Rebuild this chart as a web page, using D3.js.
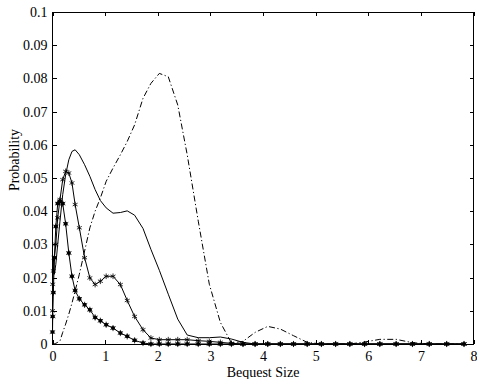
<!DOCTYPE html>
<html lang="en">
<head>
<meta charset="utf-8">
<title>Bequest Size distribution</title>
<script src="https://d3js.org/d3.v7.min.js"></script>
<style>
  body { margin: 0; background: #fff; }
  svg { display: block; }
  text { font-family: "Liberation Serif", "Times New Roman", serif; font-size: 14px; fill: #000; }
  .axis path { display: none; }
  .axis line { stroke: #000; stroke-width: 1; shape-rendering: crispEdges; }
  .curve { fill: none; stroke: #000; stroke-width: 1; }
</style>
</head>
<body>
<div id="chart"></div>
<script>
// bequest grid (x values of the plotted points)
var bequest = [0, 0.004, 0.016, 0.036, 0.063, 0.099, 0.142, 0.194, 0.25, 0.31, 0.37, 0.43,
  0.51, 0.61, 0.71, 0.81, 0.91, 1.02, 1.15, 1.29, 1.42, 1.56, 1.72, 1.87, 2.03, 2.2, 2.38,
  2.56, 2.77, 2.98, 3.19, 3.4, 3.62, 3.85, 4.09, 4.33, 4.58, 4.84, 5.11, 5.38, 5.65, 5.93,
  6.22, 6.53, 6.84, 7.16, 7.49, 7.82];

// solid line, no markers
var probSolid = [0.018, 0.026, 0.026, 0.021, 0.024, 0.03, 0.037, 0.045, 0.051, 0.0555, 0.058, 0.0585,
  0.057, 0.054, 0.0505, 0.0465, 0.0432, 0.041, 0.0394, 0.0396, 0.0401, 0.0388, 0.0348, 0.0285, 0.0222, 0.015, 0.0075,
  0.0027, 0.0019, 0.0019, 0.0021, 0.0015, 0.0005, 0, 0, 0, 0, 0, 0, 0, 0, 0,
  0, 0, 0, 0, 0, 0];

// solid line with x markers
var probCross = [0.01, 0.018, 0.022, 0.026, 0.03, 0.038, 0.0435, 0.0495, 0.052, 0.0515, 0.0485, 0.042,
  0.035, 0.026, 0.0199, 0.0179, 0.0189, 0.0204, 0.0204, 0.0179, 0.0131, 0.0083, 0.0043, 0.0018, 0.0013, 0.0013, 0.0013,
  0.0013, 0.001, 0.0008, 0.0005, 0.0002, 0, 0, 0, 0, 0, 0, 0, 0, 0, 0,
  0, 0, 0, 0, 0, 0];

// solid line with filled star markers
var probStar = [0.0036, 0.0083, 0.0155, 0.026, 0.0354, 0.0423, 0.043, 0.0423, 0.0362, 0.0274, 0.0204, 0.0161,
  0.0136, 0.0118, 0.0103, 0.008, 0.007, 0.0058, 0.0048, 0.0033, 0.0023, 0.0011, 0.0003, 0, 0, 0, 0,
  0, 0, 0, 0, 0, 0, 0, 0, 0, 0, 0, 0, 0, 0, 0,
  0, 0, 0, 0, 0, 0];

// dash-dot line
var probDashDot = [0, 0, 0, 0.0001, 0.0002, 0.0005, 0.0009, 0.0035, 0.006, 0.009, 0.0123, 0.016,
  0.021, 0.028, 0.035, 0.04, 0.044, 0.049, 0.053, 0.057, 0.061, 0.066, 0.074, 0.0785, 0.0815, 0.0805, 0.072,
  0.057, 0.037, 0.018, 0.0065, 0.0003, 0.0008, 0.0035, 0.0053, 0.0045, 0.0025, 0.0005, 0, 0, 0, 0.0006,
  0.0014, 0.0014, 0.0004, 0, 0, 0];

var xTicks = [0, 1, 2, 3, 4, 5, 6, 7, 8];
var yTicks = [0, 0.01, 0.02, 0.03, 0.04, 0.05, 0.06, 0.07, 0.08, 0.09, 0.1];

var W = 477, H = 379;
var margin = {top: 12, right: 3.5, bottom: 35, left: 52.5};
var width = W - margin.left - margin.right,
    height = H - margin.top - margin.bottom;

var svg = d3.select("#chart").append("svg")
    .attr("width", W)
    .attr("height", H);

var g = svg.append("g")
    .attr("transform", "translate(" + margin.left + "," + margin.top + ")");

var x = d3.scaleLinear().domain([0, 8]).range([0, width]);
var y = d3.scaleLinear().domain([0, 0.1]).range([height, 0]);

var yFmt = function(d) { return d === 0 ? "0" : String(+d.toFixed(2)); };

// axes, ticks pointing inwards on all four sides
g.append("g").attr("class", "axis")
    .attr("transform", "translate(0," + height + ")")
    .call(d3.axisBottom(x).tickValues(xTicks).tickSizeInner(-4).tickSizeOuter(0).tickPadding(4))
    .selectAll("text").attr("dy", "0.95em");
g.append("g").attr("class", "axis")
    .call(d3.axisTop(x).tickValues(xTicks).tickSizeInner(-4).tickSizeOuter(0).tickFormat(""));
g.append("g").attr("class", "axis")
    .call(d3.axisLeft(y).tickValues(yTicks).tickSizeInner(-4).tickSizeOuter(0).tickPadding(5).tickFormat(yFmt));
g.append("g").attr("class", "axis")
    .attr("transform", "translate(" + width + ",0)")
    .call(d3.axisRight(y).tickValues(yTicks).tickSizeInner(-4).tickSizeOuter(0).tickFormat(""));

g.selectAll(".axis text").style("font-size", "14px").style("font-family", "Liberation Serif");

var line = d3.line()
    .x(function(d, i) { return x(bequest[i]); })
    .y(function(d) { return y(d); });

g.append("path").attr("class", "curve")
    .attr("d", line(probDashDot))
    .attr("stroke-dasharray", "6,2.5,1.2,2.5");

g.append("path").attr("class", "curve").attr("d", line(probSolid));
g.append("path").attr("class", "curve").attr("d", line(probCross));
g.append("path").attr("class", "curve").attr("d", line(probStar));

// x markers
var cross = d3.symbol().type(d3.symbolAsterisk).size(22);
g.selectAll(".mk-cross").data(probCross).enter().append("path")
    .attr("class", "mk-cross")
    .attr("transform", function(d, i) { return "translate(" + x(bequest[i]) + "," + y(d) + ")"; })
    .attr("d", cross)
    .attr("fill", "none").attr("stroke", "#000").attr("stroke-width", 0.8);

// filled star markers
var star = d3.symbol().type(d3.symbolAsterisk).size(26);
var mk = g.selectAll(".mk-star").data(probStar).enter().append("g")
    .attr("class", "mk-star")
    .attr("transform", function(d, i) { return "translate(" + x(bequest[i]) + "," + y(d) + ")"; });
mk.append("circle").attr("r", 2).attr("fill", "#000");
mk.append("path").attr("d", star)
    .attr("fill", "none").attr("stroke", "#000").attr("stroke-width", 0.8);

// frame
g.append("rect")
    .attr("width", width).attr("height", height)
    .attr("fill", "none").attr("stroke", "#000").attr("stroke-width", 1)
    .attr("shape-rendering", "crispEdges");

// labels
svg.append("text")
    .attr("x", margin.left + width / 2)
    .attr("y", 377)
    .attr("text-anchor", "middle")
    .text("Bequest Size");

svg.append("text")
    .attr("transform", "translate(19,160) rotate(-90)")
    .attr("text-anchor", "middle")
    .text("Probability");
</script>
</body>
</html>
